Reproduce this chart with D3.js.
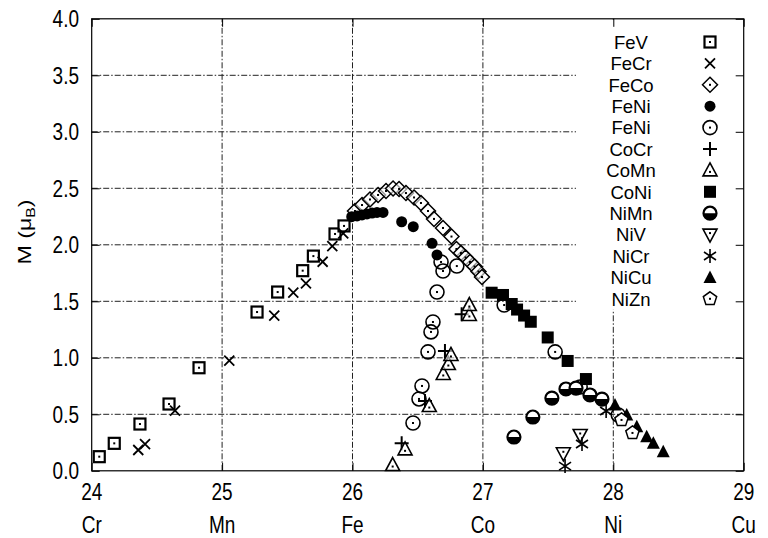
<!DOCTYPE html>
<html><head><meta charset="utf-8">
<script src="https://cdn.jsdelivr.net/npm/d3@7"></script>
<style>body{margin:0;background:#fff}svg{display:block}text{font-family:"Liberation Sans",Arial,Helvetica,sans-serif;fill:#000}</style>
</head><body><svg id="c" width="768" height="538"></svg>
<script>
const xTicks=[24,25,26,27,28,29];
const elements=["Cr","Mn","Fe","Co","Ni","Cu"];
const yTicks=[0,0.5,1,1.5,2,2.5,3,3.5,4];

const FeV=[[24.058,0.125],[24.173,0.243],[24.37,0.414],[24.593,0.591],[24.823,0.912],[25.268,1.405],[25.426,1.582],[25.618,1.771],[25.70,1.90],[25.866,2.096],[25.935,2.167]];
const FeCr=[[24.357,0.184],[24.409,0.237],[24.639,0.532],[25.055,0.974],[25.40,1.373],[25.546,1.576],[25.643,1.659],[25.771,1.85],[25.845,1.989],[25.929,2.102]];
const FeCo=[[26.019,2.299],[26.073,2.352],[26.134,2.401],[26.196,2.441],[26.257,2.476],[26.311,2.498],[26.357,2.494],[26.41,2.458],[26.472,2.419],[26.525,2.37],[26.579,2.299],[26.625,2.229],[26.694,2.149],[26.759,2.073],[26.797,1.963],[26.832,1.927],[26.867,1.888],[26.901,1.848],[26.936,1.808],[26.966,1.764],[26.993,1.715]];
const FeNiA=[[25.994,2.249],[26.035,2.255],[26.073,2.264],[26.111,2.273],[26.15,2.281],[26.188,2.286],[26.234,2.286],[26.377,2.204],[26.466,2.16],[26.61,2.013],[26.648,1.91]];
const FeNiB=[[26.679,1.848],[26.694,1.768],[26.80,1.812],[26.648,1.582],[26.617,1.317],[26.602,1.229],[26.579,1.052],[26.533,0.751],[26.51,0.636],[26.464,0.423],[27.163,1.467],[27.554,1.052],[27.746,0.742],[28.038,0.494]];
const CoCr=[[26.377,0.243],[26.556,0.618],[26.709,1.06],[26.837,1.385]];
const CoMn=[[26.308,0.051],[26.403,0.19],[26.589,0.573],[26.696,0.857],[26.735,0.945],[26.755,1.025],[26.896,1.379],[26.896,1.467]];
const CoNi=[[27.067,1.576],[27.154,1.556],[27.221,1.476],[27.262,1.427],[27.316,1.374],[27.367,1.319],[27.497,1.18],[27.65,0.972],[27.79,0.812]];
const NiMn=[[27.238,0.299],[27.383,0.476],[27.529,0.644],[27.637,0.724],[27.714,0.732],[27.821,0.671],[27.913,0.635]];
const NiV=[[27.617,0.155],[27.746,0.317]];
const NiCr=[[27.63,0.042],[27.76,0.237],[27.945,0.529]];
const NiCu=[[28.013,0.582],[28.103,0.494],[28.18,0.39],[28.256,0.302],[28.307,0.243],[28.383,0.169]];
const NiZn=[[28.063,0.45],[28.147,0.335]];

const seriesNames=["FeV","FeCr","FeCo","FeNi","FeNi","CoCr","CoMn","CoNi","NiMn","NiV","NiCr","NiCu","NiZn"];
const seriesData=[FeV,FeCr,FeCo,FeNiA,FeNiB,CoCr,CoMn,CoNi,NiMn,NiV,NiCr,NiCu,NiZn];
const seriesMarks=["sqdot","cross","diadot","fcirc","cdot","plus","tridot","fsq","half","tdndot","star","ftri","pentdot"];

const FS=19, SY=1.22;
const svg=d3.select("#c");
const x=d3.scaleLinear().domain([24,29]).range([91.7,743.7]);
const y=d3.scaleLinear().domain([0,4]).range([470.8,18.8]);
const L=x.range()[0],R=x.range()[1],B=y.range()[0],T=y.range()[1];

function label(parent,tx,ty,anchor,str,fs=FS,sy=SY){
  return parent.append("text").attr("transform",`translate(${tx},${ty}) scale(1,${sy})`)
    .attr("text-anchor",anchor).attr("font-size",fs).text(str);
}

// grid
const g=svg.append("g");
g.selectAll("line.gx").data(xTicks.slice(1,-1)).join("line")
 .attr("x1",d=>x(d)).attr("x2",d=>x(d)).attr("y1",B).attr("y2",T)
 .attr("stroke","#222").attr("stroke-width",1).attr("stroke-dasharray","6,2,1.5,2");
g.selectAll("line.gy").data(yTicks.slice(1,-1)).join("line")
 .attr("y1",d=>y(d)).attr("y2",d=>y(d)).attr("x1",L).attr("x2",R)
 .attr("stroke","#222").attr("stroke-width",1).attr("stroke-dasharray","6,2,1.5,2");

// legend opaque background
svg.append("rect").attr("x",576).attr("y",T+1).attr("width",R-577).attr("height",290).attr("fill","#fff");

// border & ticks
const ax=svg.append("g");
ax.append("g").attr("transform",`translate(0,${B})`).call(d3.axisBottom(x).tickValues(xTicks).tickSize(-8).tickFormat("")).call(s=>s.select(".domain").remove());
ax.append("g").attr("transform",`translate(0,${T})`).call(d3.axisTop(x).tickValues(xTicks).tickSize(-8).tickFormat("")).call(s=>s.select(".domain").remove());
ax.append("g").attr("transform",`translate(${L},0)`).call(d3.axisLeft(y).tickValues(yTicks).tickSize(-8).tickFormat("")).call(s=>s.select(".domain").remove());
ax.append("g").attr("transform",`translate(${R},0)`).call(d3.axisRight(y).tickValues(yTicks).tickSize(-8).tickFormat("")).call(s=>s.select(".domain").remove());
ax.selectAll("line").attr("stroke","#000").attr("stroke-width",1);
svg.append("rect").attr("x",L).attr("y",T).attr("width",R-L).attr("height",B-T).attr("fill","none").attr("stroke","#000").attr("stroke-width",1.2);

// tick labels
const tl=svg.append("g");
yTicks.forEach(d=>label(tl,79,y(d)+8.3,"end",d.toFixed(1)));
xTicks.forEach(d=>label(tl,x(d),499.5,"middle",String(d)));
elements.forEach((e,i)=>label(tl,x(xTicks[i]),533,"middle",e));
const yl=svg.append("text").attr("transform",`translate(31,232) scale(1,${SY}) rotate(-90)`).attr("text-anchor","middle").attr("font-size",FS);
yl.append("tspan").text("M (\u03bc");
yl.append("tspan").attr("font-size",13).attr("dy",4).text("B");
yl.append("tspan").attr("dy",-4).text(")");

// markers
function mark(sel,type){
  const k="#000";
  const dot=()=>sel.append("rect").attr("x",-1).attr("y",-1).attr("width",2).attr("height",2).attr("fill",k);
  switch(type){
    case "sqdot": sel.append("rect").attr("x",-5.5).attr("y",-5.5).attr("width",11).attr("height",11).attr("fill","#fff").attr("stroke",k).attr("stroke-width",2.2); dot(); break;
    case "cross": sel.append("path").attr("d","M-5,-5L5,5M-5,5L5,-5").attr("stroke",k).attr("stroke-width",1.8); break;
    case "diadot": sel.append("path").attr("d","M0,-7.5L7.5,0L0,7.5L-7.5,0Z").attr("fill","#fff").attr("fill-opacity",0.6).attr("stroke",k).attr("stroke-width",1.5); dot(); break;
    case "fcirc": sel.append("circle").attr("r",5.5).attr("fill",k); break;
    case "cdot": sel.append("circle").attr("r",7).attr("fill","none").attr("stroke",k).attr("stroke-width",1.6); dot(); break;
    case "plus": sel.append("path").attr("d","M-7,0H7M0,-7V7").attr("stroke",k).attr("stroke-width",2); break;
    case "tridot": sel.append("path").attr("d","M0,-7.5L7,5.5L-7,5.5Z").attr("fill","#fff").attr("fill-opacity",0.6).attr("stroke",k).attr("stroke-width",1.6); sel.append("rect").attr("x",-1).attr("y",0.5).attr("width",2).attr("height",2).attr("fill",k); break;
    case "fsq": sel.append("rect").attr("x",-6).attr("y",-6).attr("width",12).attr("height",12).attr("fill",k); break;
    case "half": sel.append("circle").attr("r",6.5).attr("fill","#fff").attr("stroke",k).attr("stroke-width",2.2); sel.append("path").attr("d","M-6.5,0A6.5,6.5 0 0 0 6.5,0Z").attr("fill",k); break;
    case "tdndot": sel.append("path").attr("d","M0,7.5L7,-5.5L-7,-5.5Z").attr("fill","#fff").attr("fill-opacity",0.6).attr("stroke",k).attr("stroke-width",1.6); sel.append("rect").attr("x",-1).attr("y",-2.5).attr("width",2).attr("height",2).attr("fill",k); break;
    case "star": sel.append("path").attr("d","M0,-7V7M-6,-4L6,4M-6,4L6,-4").attr("stroke",k).attr("stroke-width",1.6); break;
    case "ftri": sel.append("path").attr("d","M0,-7L6.5,5.5L-6.5,5.5Z").attr("fill",k); break;
    case "pentdot": { const p=d3.range(5).map(i=>{const a=-Math.PI/2+i*2*Math.PI/5;return [7*Math.cos(a),7*Math.sin(a)];}); sel.append("path").attr("d","M"+p.join("L")+"Z").attr("fill","#fff").attr("stroke",k).attr("stroke-width",1.5); dot(); break; }
  }
}

const pts=svg.append("g");
seriesData.forEach((data,i)=>{
  pts.append("g").selectAll("g").data(data).join("g")
    .attr("transform",d=>`translate(${x(d[0])},${y(d[1])})`)
    .each(function(){mark(d3.select(this),seriesMarks[i]);});
});

// legend
const lg=svg.append("g");
seriesNames.forEach((n,i)=>{
  const yy=42+i*21.4;
  label(lg,631,yy+6.8,"middle",n,18.5,1.0);
  const m=lg.append("g").attr("transform",`translate(710,${yy})`);
  mark(m,seriesMarks[i]);
});
</script></body></html>
